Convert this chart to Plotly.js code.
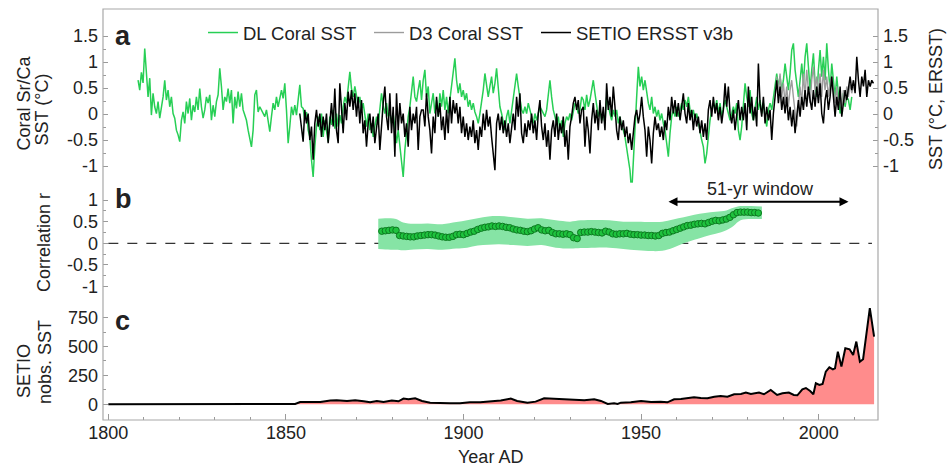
<!DOCTYPE html>
<html><head><meta charset="utf-8">
<script src="https://cdn.plot.ly/plotly-3.0.1.min.js"></script>
<style>html,body{margin:0;padding:0;background:#fff}#chart{width:949px;height:467px}</style>
</head><body><div id="chart"></div>
<script>
const SAMPLE_STEP = 0.4695;

// DL coral Sr/Ca SST anomaly (°C)
const dlStart = 1808.37;
const dlCoralSST = [
0.65,0.46,0.80,0.60,1.26,0.70,0.33,0.69,-0.02,0.40,0.14,0.01,0.24,-0.08,0.14,0.33,0.65,0.27,0.46,0.14,0.33,0.01,-0.08,-0.31,-0.40,-0.53,-0.12,0.04,-0.18,0.24,0.01,0.30,-0.12,0.17,0.04,0.33,0.08,0.49,0.14,-0.08,0.08,0.33,0.21,0.37,-0.12,0.17,-0.05,0.24,0.37,0.88,0.53,0.08,0.33,0.24,0.49,0.21,0.46,-0.18,0.33,0.11,0.43,0.14,0.40,0.08,-0.02,-0.12,-0.31,-0.44,-0.63,-0.31,0.37,0.46,0.04,0.14,0.08,
0.01,-0.05,0.08,-0.18,-0.34,-0.05,0.21,0.08,0.33,0.14,0.33,0.46,0.30,0.59,0.08,-0.56,-0.24,0.14,-0.02,0.17,-0.02,0.27,0.56,0.14,0.11,-0.12,0.04,-0.31,-0.44,-0.88,-1.21,-0.63,-0.24,-0.05,-0.31,0.01,-0.44,-0.12,-0.31,-0.53,-0.05,-0.21,0.08,-0.28,0.01,-0.24,-0.02,-0.18,0.14,0.33,0.21,0.59,0.81,0.49,0.33,0.53,0.37,0.17,0.33,0.08,0.21,-0.05,-0.24,0.01,-0.31,-0.18,-0.44,-0.24,-0.05,-0.21,0.14,0.40,0.17,0.01,0.21,-0.05,0.04,-0.18,0.01,-0.31,-0.56,-0.31,-0.63,-0.88,-1.21,-0.69,-0.31,-0.05,0.14,0.46,0.72,0.33,0.24,0.46,0.65,0.27,
0.65,0.85,0.33,0.53,0.01,0.21,0.40,0.01,0.27,-0.05,0.40,0.14,0.46,0.08,0.33,0.01,0.27,0.46,0.78,1.07,0.65,0.40,0.59,0.33,0.46,0.27,0.40,0.14,0.27,0.08,0.21,0.04,-0.05,-0.18,0.01,0.21,0.46,0.78,0.59,0.33,0.53,0.72,0.40,0.59,0.88,0.53,0.14,0.01,-0.18,-0.31,-0.05,0.08,-0.18,0.08,0.33,0.59,0.78,0.53,0.33,0.08,0.01,0.14,0.01,0.21,0.08,-0.05,-0.18,0.01,-0.12,0.01,0.14,0.08,0.01,-0.05,0.08,0.33,0.65,0.33,0.08,-0.05,-0.18,-0.05,-0.31,-0.12,-0.44,-0.18,-0.05,-0.12,0.01,-0.12,0.08,0.21,0.14,0.01,0.08,0.33,
0.27,0.08,0.37,0.14,0.27,0.46,0.65,0.40,0.14,-0.05,0.08,-0.12,0.01,-0.18,0.33,0.14,0.01,-0.12,0.08,-0.05,0.08,-0.18,-0.05,-0.24,-0.31,-0.44,-0.63,-0.88,-1.08,-1.53,-0.82,-0.31,0.33,0.91,0.53,0.72,0.46,0.65,0.40,0.21,0.08,0.33,0.01,0.14,-0.05,0.08,-0.12,0.01,-0.18,-0.31,-0.56,-0.82,-0.37,-0.05,0.08,-0.05,0.14,-0.05,0.08,0.21,0.08,0.27,0.14,0.33,0.08,-0.05,0.08,-0.12,0.01,-0.18,-0.31,-0.50,-0.63,-0.95,-0.76,-0.37,-0.12,0.08,0.21,0.08,0.27,0.01,0.21,-0.05,0.08,0.27,0.14,0.01,-0.12,0.01,0.14,0.01,0.21,-0.31,-0.50,-0.24,
0.21,0.59,0.33,0.14,0.46,0.01,-0.12,0.14,0.33,0.08,0.27,0.01,0.21,-0.05,-0.24,0.08,0.21,0.08,0.33,0.59,0.78,0.53,0.72,0.46,0.65,0.97,0.72,0.46,0.78,1.23,1.36,0.85,0.59,0.33,0.65,0.97,0.59,1.10,1.36,0.78,0.46,0.85,1.17,0.59,0.33,0.85,1.23,0.72,1.10,0.65,1.36,0.85,0.46,0.97,0.65,0.33,0.72,0.33,0.01,0.21,0.40,0.14,0.33,0.27,0.08,0.33
];

// D3 coral SST anomaly (°C)
const d3Start = 1988.18;
const d3CoralSST = [
0.72,0.40,0.78,0.33,0.59,0.21,0.53,0.14,0.46,0.65,0.33,0.01,-0.24,0.14,0.53,0.21,0.78,0.33,0.85,0.46,0.21,0.65,0.91,0.46,0.72,0.40,0.78,0.33,0.85,0.46,0.72,0.33,0.59,0.72,0.46,0.21,0.53,0.14,0.40,0.08,0.46,0.21,0.53,0.33,0.59,0.40,0.53
];

// SETIO ERSST v3b anomaly (°C)
const ersstStart = 1853.91;
const ersstSST = [
0.01,-0.31,-0.53,0.08,-0.18,0.01,-0.50,-0.24,-0.88,-0.18,0.08,-0.24,0.01,-0.44,-0.05,-0.31,0.01,-0.56,-0.18,0.21,-0.24,0.49,-0.31,-0.56,0.59,0.01,-0.37,0.21,-0.12,0.43,0.14,0.46,0.08,0.40,-0.05,0.33,-0.18,0.27,-0.37,-0.12,-0.63,-0.18,0.01,-0.37,-0.05,-0.56,-0.24,0.01,-0.69,-0.18,0.21,0.53,-0.05,-0.31,0.40,-0.37,0.14,-0.82,0.40,-0.31,0.21,-0.18,0.01,-0.44,-0.18,-0.63,0.14,-0.31,0.01,-0.18,0.14,-0.69,-0.05,0.08,
0.08,-0.24,0.40,-0.05,-0.31,-0.76,-0.05,-0.37,0.33,-0.05,0.21,-0.31,-0.05,-0.50,0.08,-0.37,0.33,-0.18,0.27,0.01,0.21,-0.18,0.14,-0.37,-0.05,-0.44,-0.18,-0.50,-0.24,-0.44,-0.12,-0.56,-0.31,-0.69,-0.24,-0.44,0.01,-0.31,0.08,-0.24,-0.05,-0.44,-0.82,-1.08,-0.18,0.01,-0.31,-0.05,-0.37,-0.12,-0.44,-0.18,-0.56,-0.24,0.01,-0.31,0.33,-0.05,0.40,-0.37,-0.56,-0.18,-0.44,-0.12,-0.31,0.01,-0.37,-0.12,-0.50,0.01,0.27,-0.24,-0.50,-0.18,-0.63,-0.31,-0.88,-0.31,-0.12,-0.44,0.01,-0.50,-0.18,-0.37,-0.05,-0.63,-0.31,-0.88,-0.24,-0.05,0.21,0.33,0.08,0.27,-0.18,0.08,
0.14,-0.63,-0.05,-0.31,-0.76,-0.12,0.21,-0.18,0.08,-0.31,0.27,-0.18,0.14,-0.31,0.59,0.08,0.33,-0.05,0.53,0.14,-0.31,-0.50,-0.05,-0.31,-0.12,-0.44,-0.24,-0.56,-0.37,-0.69,-0.31,-0.05,0.08,-0.18,0.01,0.33,-0.05,-0.31,-0.82,-0.24,-0.50,-0.95,-0.37,-0.05,-0.31,-0.18,-0.44,-0.24,-0.50,-0.12,-0.31,0.14,-0.12,0.33,0.01,0.27,-0.05,0.21,-0.12,0.14,0.40,0.01,-0.18,0.21,-0.12,0.08,-0.31,0.01,-0.24,-0.05,-0.37,-0.12,-0.44,-0.18,-0.50,0.08,0.27,-0.05,0.33,0.01,0.21,-0.12,0.14,-0.18,0.08,0.59,0.14,0.53,0.01,-0.18,0.08,-0.31,0.01,0.27,-0.12,0.14,
-0.12,0.21,-0.31,0.53,0.01,0.33,-0.12,0.14,-0.24,0.97,0.21,-0.05,0.33,-0.18,0.14,-0.12,0.08,-0.50,0.01,0.33,0.65,0.21,0.53,0.08,0.33,0.01,0.33,-0.12,0.14,-0.24,0.08,-0.37,0.01,0.27,-0.05,0.33,0.08,0.46,0.14,0.53,0.27,0.08,0.46,0.14,0.53,0.21,0.59,0.01,-0.18,0.27,0.46,0.08,0.33,0.72,0.33,-0.05,0.33,0.08,0.53,-0.05,0.21,0.46,0.27,0.53,0.72,0.46,0.65,0.40,1.10,0.65,0.33,0.72,0.53,0.85,0.33,0.65,0.53,0.65,0.59
];

// 51-yr running correlation (centre year, r)
const corrStart = 1877;
const corrR = [
0.28,0.29,0.30,0.31,0.30,0.18,0.17,0.16,0.15,0.15,0.17,0.18,0.19,0.20,0.20,0.19,0.17,0.15,0.14,0.14,0.16,0.20,0.21,0.20,0.23,0.26,0.28,0.32,0.35,0.37,0.38,0.40,0.39,0.40,0.39,0.37,0.36,0.33,0.31,0.30,0.28,0.27,0.29,0.33,0.36,0.31,0.29,0.30,0.25,0.22,0.22,0.21,0.22,0.20,0.13,0.11,0.25,0.26,0.26,0.27,0.26,0.25,0.24,0.28,0.26,0.22,0.21,0.22,0.22,0.23,0.21,0.20,0.20,0.19,0.19,0.18,0.18,0.17,0.18,0.23,0.25,0.26,0.29,0.32,0.35,0.38,0.41,0.42,0.44,0.45,0.46,0.45,0.48,0.51,0.53,0.52,0.54,0.56,0.60,0.66,0.71,0.72,0.72,0.72,0.71,0.71,0.70
];
const bandYears = [1876,1878,1881,1883,1886,1890,1894,1898,1901,1904,1907,1910,1914,1918,1922,1926,1930,1933,1937,1941,1945,1949,1953,1956,1959,1962,1965,1968,1971,1974,1976,1978,1981,1984];
const bandUpper = [0.57,0.58,0.56,0.48,0.45,0.46,0.44,0.49,0.53,0.58,0.62,0.63,0.60,0.57,0.58,0.53,0.50,0.53,0.54,0.53,0.50,0.50,0.49,0.50,0.55,0.60,0.66,0.70,0.73,0.76,0.82,0.86,0.86,0.85];
const bandLower = [-0.13,-0.14,-0.15,-0.16,-0.14,-0.13,-0.15,-0.12,-0.10,-0.05,-0.03,-0.02,-0.04,-0.06,-0.04,-0.10,-0.12,-0.11,-0.10,-0.10,-0.13,-0.16,-0.18,-0.17,-0.10,0.00,0.08,0.16,0.22,0.30,0.40,0.53,0.56,0.56];

// number of SETIO SST observations
const nobsYears = [1800,1852.6,1854,1856.8,1859.7,1862.5,1864.3,1867.2,1869.5,1871.9,1873.7,1875.6,1877.5,1879.8,1881.7,1883.1,1884.5,1886.4,1888.3,1890.6,1893.4,1896.2,1899,1901.8,1904.7,1907.6,1910.5,1913.3,1915.1,1918,1920.3,1922.7,1926.4,1930.2,1934,1936.8,1938.7,1940.6,1942.4,1943.4,1944.3,1947.1,1950,1952.8,1955.5,1957.4,1959.3,1961.2,1963,1964.9,1966.8,1968.7,1970.6,1972.4,1974.3,1976.2,1978.1,1979.5,1980.9,1983.2,1984.6,1986.5,1988.3,1989.8,1991.6,1993,1994,1995.4,1996.4,1997.6,1998.5,1999.2,2000.2,2001.1,2002,2003,2004,2004.6,2005.4,2006.4,2007.5,2008.7,2009.7,2010.6,2011.6,2012.5,2014.4,2015.6];
const nobsValues = [0,3,20,23,20,32,35,29,35,26,17,29,20,32,26,49,43,52,29,14,9,9,9,17,17,26,32,49,29,14,23,52,46,43,35,43,29,3,9,3,14,17,29,20,23,17,43,46,52,61,55,52,66,72,66,87,90,101,90,101,87,124,81,95,101,81,78,130,141,115,87,182,168,176,283,320,303,312,456,326,485,476,427,543,369,390,832,586];

// tick labels
const xTicks = [1800,1850,1900,1950,2000];
const xMinor = [1810,1820,1830,1840,1860,1870,1880,1890,1910,1920,1930,1940,1960,1970,1980,1990,2010];
const yTicksA = [-1,-0.5,0,0.5,1,1.5];
const yTextA = ['-1','-0.5','0','0.5','1','1.5'];
const yMinorA = [-0.75,-0.25,0.25,0.75,1.25];
const yTicksB = [-1,-0.5,0,0.5,1];
const yTextB = ['-1','-0.5','0','0.5','1'];
const yMinorB = [-0.75,-0.25,0.25,0.75];
const yTicksC = [0,250,500,750];
const yMinorC = [125,375,625];

function sampleYears(start, n){ return Array.from({length:n},(_,i)=>start+i*SAMPLE_STEP); }
function seqYears(start, n){ return Array.from({length:n},(_,i)=>start+i); }

const FONT = 'Liberation Sans, Arial, sans-serif';
const TXT = '#222222';
const TICKC = '#9a9a9a';

const traces = [
  {x: sampleYears(dlStart, dlCoralSST.length), y: dlCoralSST, type:'scatter', mode:'lines', name:'DL Coral SST',
   line:{color:'#27cf55', width:1.5}, xaxis:'x', yaxis:'y', legend:'legend'},
  {x: sampleYears(d3Start, d3CoralSST.length), y: d3CoralSST, type:'scatter', mode:'lines', name:'D3 Coral SST',
   line:{color:'#9c9c9c', width:1.4}, xaxis:'x', yaxis:'y', legend:'legend2'},
  {x: sampleYears(ersstStart, ersstSST.length), y: ersstSST, type:'scatter', mode:'lines', name:'SETIO ERSST v3b',
   line:{color:'#000000', width:1.5}, xaxis:'x', yaxis:'y2', legend:'legend3'},
  {x: bandYears, y: bandLower, type:'scatter', mode:'lines', line:{width:0, color:'rgba(0,0,0,0)', shape:'spline'},
   showlegend:false, hoverinfo:'skip', xaxis:'x', yaxis:'y3'},
  {x: bandYears, y: bandUpper, type:'scatter', mode:'lines', fill:'tonexty', fillcolor:'#86e4a5',
   line:{width:0, color:'rgba(0,0,0,0)', shape:'spline'}, showlegend:false, hoverinfo:'skip', xaxis:'x', yaxis:'y3'},
  {x: seqYears(corrStart, corrR.length), y: corrR, type:'scatter', mode:'markers', showlegend:false,
   marker:{size:6.5, color:'#1fc23e', line:{color:'#0c7a20', width:1}}, xaxis:'x', yaxis:'y3'},
  {x: nobsYears, y: nobsValues, type:'scatter', mode:'lines', fill:'tozeroy', fillcolor:'#ff8c8c',
   line:{color:'#000000', width:2}, showlegend:false, xaxis:'x', yaxis:'y4'}
];

function yax(extra){
  return Object.assign({showgrid:false, zeroline:false, showline:false, ticks:'inside', ticklen:5, tickwidth:1,
    tickcolor:TICKC, tickmode:'array', tickfont:{family:FONT, size:18, color:TXT}, anchor:'x', ticklabelstandoff:4}, extra);
}
function leg(x){
  return {orientation:'h', x:x, xanchor:'left', y:0.9416, yanchor:'middle', bgcolor:'rgba(0,0,0,0)',
    font:{family:FONT, size:18.5, color:TXT}};
}

const layout = {
  width:949, height:467,
  margin:{l:103, r:71, t:9, b:47},
  paper_bgcolor:'#ffffff', plot_bgcolor:'#ffffff',
  font:{family:FONT, size:18, color:TXT},
  showlegend:true,
  legend: leg(0.129),
  legend2: leg(0.3432),
  legend3: leg(0.5587),
  xaxis:{range:[1798.5, 2016.7], showgrid:false, zeroline:false, showline:false, anchor:'y4',
    tickmode:'array', tickvals:xTicks, ticks:'inside', ticklen:6, tickcolor:TICKC,
    tickfont:{family:FONT, size:18, color:TXT},
    minor:{tickmode:'array', tickvals:xMinor, ticks:'inside', ticklen:3, tickcolor:TICKC}},
  yaxis: yax({domain:[0.5445,1], range:[-1.58,2.02], side:'left', tickvals:yTicksA, ticktext:yTextA,
    minor:{tickmode:'array', tickvals:yMinorA, ticks:'inside', ticklen:3, tickcolor:TICKC}}),
  yaxis2: yax({overlaying:'y', range:[-1.58,2.02], side:'right', tickvals:yTicksA, ticktext:yTextA,
    minor:{tickmode:'array', tickvals:yMinorA, ticks:'inside', ticklen:3, tickcolor:TICKC}}),
  yaxis3: yax({domain:[0.3034,0.5774], range:[-1.2,1.4], side:'left', tickvals:yTicksB, ticktext:yTextB,
    minor:{tickmode:'array', tickvals:yMinorB, ticks:'inside', ticklen:3, tickcolor:TICKC}}),
  yaxis4: yax({domain:[0,0.29], range:[-136,896], side:'left', tickvals:yTicksC,
    minor:{tickmode:'array', tickvals:yMinorC, ticks:'inside', ticklen:3, tickcolor:TICKC}}),
  shapes:[
    {type:'rect', xref:'paper', yref:'paper', x0:0, x1:1, y0:0, y1:1, line:{color:'#a8a8a8', width:1.2}, layer:'above'},
    {type:'line', xref:'x', yref:'y3', x0:1800, x1:2015, y0:0, y1:0, line:{color:'#333333', width:1.3, dash:'10px,9px'}, layer:'below'}
  ],
  annotations:[
    {text:'<b>a</b>', xref:'paper', yref:'paper', x:0.0129, y:0.934, xanchor:'left', yanchor:'middle', showarrow:false, font:{family:FONT, size:27, color:TXT}},
    {text:'<b>b</b>', xref:'paper', yref:'paper', x:0.0129, y:0.538, xanchor:'left', yanchor:'middle', showarrow:false, font:{family:FONT, size:27, color:TXT}},
    {text:'<b>c</b>', xref:'paper', yref:'paper', x:0.0129, y:0.241, xanchor:'left', yanchor:'middle', showarrow:false, font:{family:FONT, size:27, color:TXT}},
    {text:'Coral Sr/Ca', xref:'paper', yref:'paper', x:-0.1019, y:0.770, textangle:-90, showarrow:false, xanchor:'center', yanchor:'middle', font:{family:FONT, size:18, color:TXT}},
    {text:'SST (°C)', xref:'paper', yref:'paper', x:-0.0787, y:0.7555, textangle:-90, showarrow:false, xanchor:'center', yanchor:'middle', font:{family:FONT, size:18, color:TXT}},
    {text:'Correlation r', xref:'paper', yref:'paper', x:-0.0761, y:0.4307, textangle:-90, showarrow:false, xanchor:'center', yanchor:'middle', font:{family:FONT, size:18, color:TXT}},
    {text:'SETIO', xref:'paper', yref:'paper', x:-0.1019, y:0.1192, textangle:-90, showarrow:false, xanchor:'center', yanchor:'middle', font:{family:FONT, size:18, color:TXT}},
    {text:'nobs. SST', xref:'paper', yref:'paper', x:-0.0748, y:0.1411, textangle:-90, showarrow:false, xanchor:'center', yanchor:'middle', font:{family:FONT, size:18, color:TXT}},
    {text:'SST (°C, ERSST)', xref:'paper', yref:'paper', x:1.0748, y:0.781, textangle:-90, showarrow:false, xanchor:'center', yanchor:'middle', font:{family:FONT, size:18, color:TXT}},
    {text:'Year AD', xref:'paper', yref:'paper', x:0.4994, y:-0.09, showarrow:false, xanchor:'center', yanchor:'middle', font:{family:FONT, size:18, color:TXT}},
    {text:'', xref:'x', yref:'y3', x:2008.4, y:0.96, axref:'x', ayref:'y3', ax:1957.3, ay:0.96, showarrow:true,
     arrowside:'end+start', arrowhead:2, arrowsize:1, arrowwidth:1.8, arrowcolor:'#000000'},
    {text:'51-yr window', xref:'x', yref:'y3', x:1983.6, y:1.254, showarrow:false, xanchor:'center', yanchor:'middle', font:{family:FONT, size:18, color:TXT}}
  ]
};

Plotly.newPlot('chart', traces, layout, {displayModeBar:false, staticPlot:true});
</script>
</body></html>
